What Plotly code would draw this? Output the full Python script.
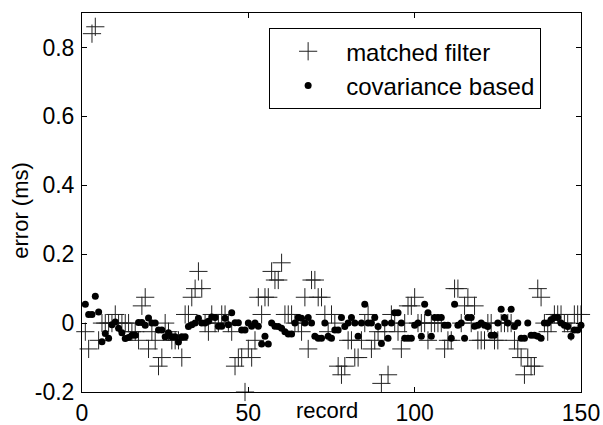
import plotly.graph_objects as go

records = list(range(1, 151))

matched_filter = [
    -0.025, -0.075, 0.84, 0.86, -0.05, 0.0, 0.0, 0.0, 0.0, 0.025,
    0.0, 0.0, 0.0, 0.0, -0.025, -0.025, -0.05, 0.05, 0.075, -0.075,
    -0.025, -0.05, -0.125, -0.1, 0.0, -0.025, -0.05, -0.05, -0.05, -0.1,
    0.025, 0.025, 0.075, 0.1, 0.15, 0.1, 0.0, -0.025, 0.025, 0.0,
    0.0, 0.025, 0.025, 0.0, -0.025, -0.125, -0.1, -0.1, -0.2, -0.075,
    -0.1, -0.05, 0.075, 0.025, 0.075, 0.075, 0.15, 0.125, 0.125, 0.175,
    0.025, 0.025, 0.025, 0.0, 0.0, -0.025, 0.075, -0.075, 0.125, 0.125,
    0.075, 0.075, 0.025, -0.025, 0.025, 0.0, -0.125, -0.15, -0.125, -0.05,
    -0.05, -0.1, -0.1, -0.05, 0.0, 0.025, -0.075, -0.05, -0.025, -0.175,
    -0.025, -0.15, 0.025, 0.0, -0.025, -0.075, 0.0, 0.05, 0.05, 0.075,
    0.0, 0.0, 0.0, -0.05, 0.0, 0.0, 0.0, 0.0, -0.075, -0.05,
    -0.05, 0.1, 0.1, 0.0, 0.05, 0.075, 0.0, 0.05, -0.05, -0.05,
    -0.05, 0.0, 0.0, -0.05, -0.05, 0.0, 0.0, 0.0, 0.0, -0.05,
    -0.075, -0.1, -0.15, -0.1, -0.125, -0.125, 0.1, 0.075, 0.0, -0.025,
    0.0, 0.025, 0.025, 0.025, 0.0, 0.0, -0.025, 0.025, 0.025, 0.025,
]

covariance_based = [
    0.055, 0.025, 0.025, 0.078, 0.032, -0.054, -0.030, -0.044, -0.005, 0.003,
    -0.015, -0.028, -0.045, -0.042, -0.035, -0.035, 0.002, 0.002, -0.006, 0.015,
    0.0, 0.0, -0.020, -0.020, -0.040, -0.028, -0.040, -0.040, -0.055, -0.040,
    -0.040, -0.010, -0.005, 0.000, 0.014, 0.000, 0.000, 0.005, 0.018, 0.016,
    -0.009, -0.009, 0.014, -0.005, 0.030, 0.001, 0.001, -0.020, -0.020, 0.000,
    -0.009, 0.000, -0.009, -0.061, -0.038, -0.061, 0.000, -0.009, -0.010, -0.015,
    -0.025, -0.032, -0.032, 0.000, 0.016, 0.014, 0.000, 0.016, 0.000, -0.038,
    -0.044, -0.044, 0.000, -0.038, -0.044, -0.020, -0.020, 0.016, -0.010, 0.000,
    0.016, 0.000, -0.038, 0.000, 0.055, 0.000, 0.000, 0.016, -0.010, -0.059,
    0.000, -0.044, 0.000, 0.030, 0.030, 0.000, -0.044, -0.044, -0.044, -0.006,
    0.000, -0.038, 0.055, 0.030, -0.038, 0.016, 0.016, 0.016, -0.006, -0.006,
    -0.044, 0.055, -0.006, 0.000, -0.044, 0.016, 0.016, -0.009, -0.006, 0.000,
    -0.006, -0.010, -0.035, -0.035, 0.000, 0.040, 0.016, 0.000, 0.040, -0.010,
    0.000, -0.044, -0.044, 0.000, -0.035, -0.035, -0.038, -0.044, 0.000, 0.000,
    0.010, 0.016, 0.016, 0.000, -0.006, -0.010, -0.038, -0.020, -0.020, -0.006,
]

x_ticks = [0, 50, 100, 150]
y_ticks = [-0.2, 0, 0.2, 0.4, 0.6, 0.8]
y_tick_text = ["-0.2", "0", "0.2", "0.4", "0.6", "0.8"]

FONT = "Liberation Sans, Arial, sans-serif"

fig = go.Figure()
fig.add_trace(go.Scatter(
    x=records, y=matched_filter, mode="markers", name="matched filter",
    marker=dict(symbol="cross-thin", size=13, color="black",
                line=dict(color="#222222", width=1)),
    cliponaxis=False,
))
fig.add_trace(go.Scatter(
    x=records, y=covariance_based, mode="markers", name="covariance based",
    marker=dict(symbol="circle", size=7, color="black", line=dict(width=0)),
    cliponaxis=False,
))

fig.update_layout(
    width=603, height=425,
    margin=dict(l=82, r=22, t=13, b=33, autoexpand=False),
    paper_bgcolor="white", plot_bgcolor="white",
    font=dict(family=FONT, size=23, color="black"),
    showlegend=True,
    legend=dict(
        x=0.375, y=0.96, xanchor="left", yanchor="top",
        bordercolor="black", borderwidth=1, bgcolor="white",
        font=dict(family=FONT, size=24, color="black"),
        itemwidth=66, tracegroupgap=0,
    ),
    xaxis=dict(
        range=[0, 150], tickmode="array", tickvals=x_ticks,
        showline=True, linecolor="black", linewidth=1, mirror="ticks",
        ticks="inside", ticklen=5, tickcolor="black",
        showgrid=False, zeroline=False, automargin=False,
        tickfont=dict(family=FONT, size=23),
    ),
    yaxis=dict(
        range=[-0.2, 0.9], tickmode="array", tickvals=y_ticks,
        ticktext=y_tick_text,
        showline=True, linecolor="black", linewidth=1, mirror="ticks",
        ticks="inside", ticklen=5, tickcolor="black",
        showgrid=False, zeroline=False, automargin=False,
        tickfont=dict(family=FONT, size=23),
        ticklabelstandoff=2,
    ),
    annotations=[
        dict(text="record", xref="paper", yref="paper", x=0.49, y=-0.086,
             xanchor="center", yanchor="bottom", showarrow=False,
             font=dict(family=FONT, size=22)),
        dict(text="error (ms)", xref="paper", yref="paper", x=-0.125, y=0.48,
             xanchor="center", yanchor="middle", textangle=-90,
             showarrow=False, font=dict(family=FONT, size=22)),
    ],
)

fig.write_html(
    "out.html",
    config={"displayModeBar": False},
    post_script="document.body.style.margin='0';document.body.style.overflow='hidden';",
)
